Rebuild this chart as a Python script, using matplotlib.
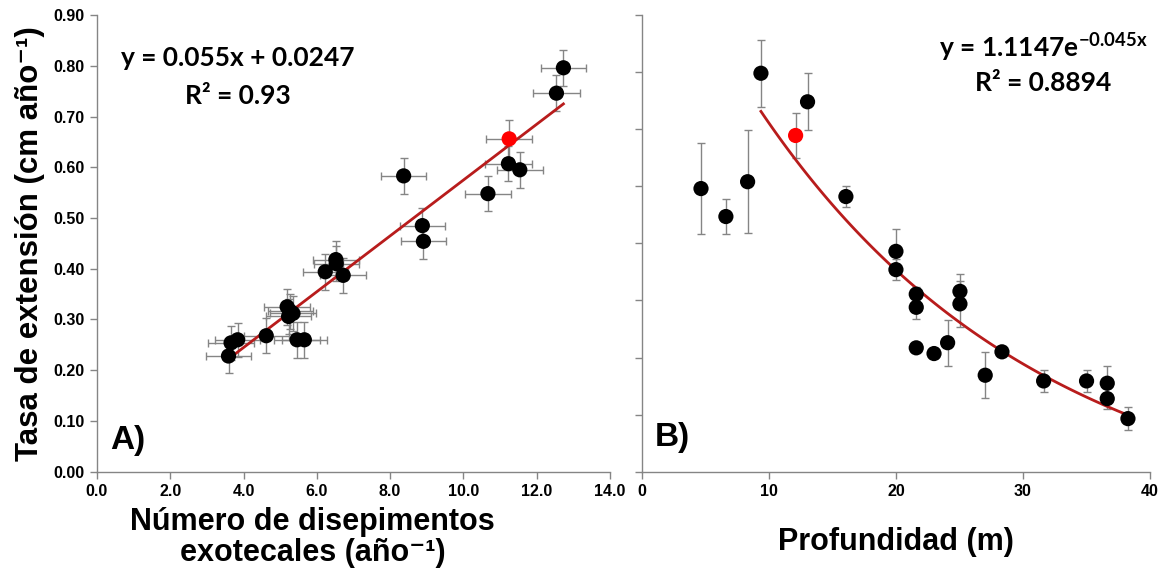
import matplotlib
matplotlib.use("Agg")
import matplotlib.pyplot as plt
import numpy as np

plt.rcParams["font.family"] = ["Liberation Sans", "DejaVu Sans"]
plt.rcParams["mathtext.fontset"] = "custom"
plt.rcParams["mathtext.rm"] = "Lato"
plt.rcParams["mathtext.bf"] = "Lato:bold"

# Panel A: tasa de extension vs numero de disepimentos
a_x = [12.73, 12.54, 11.25, 11.23, 11.54, 10.67, 8.37, 8.88, 8.91,
       6.52, 6.53, 6.23, 6.72, 5.19, 5.28, 5.35, 5.23, 4.62, 5.46,
       5.66, 3.66, 3.84, 3.59]
a_y = [0.796, 0.746, 0.656, 0.607, 0.595, 0.548, 0.583, 0.485, 0.454,
       0.418, 0.410, 0.394, 0.387, 0.325, 0.316, 0.312, 0.306, 0.268, 0.260,
       0.260, 0.254, 0.260, 0.228]
a_xerr = [0.62, 0.63, 0.63, 0.63, 0.62, 0.62, 0.62, 0.62, 0.62,
          0.62, 0.62, 0.62, 0.62, 0.62, 0.62, 0.62, 0.62, 0.62, 0.62,
          0.62, 0.62, 0.62, 0.62]
a_yerr = [0.035, 0.036, 0.037, 0.035, 0.035, 0.035, 0.035, 0.034, 0.034,
          0.036, 0.035, 0.035, 0.035, 0.035, 0.035, 0.035, 0.035, 0.034, 0.035,
          0.035, 0.034, 0.034, 0.034]
a_red = 2  # index of red point
a_slope, a_icpt = 0.055, 0.0247

# Panel B: tasa de extension vs profundidad
b_x = [4.65, 6.61, 8.32, 9.37, 12.10, 13.04, 16.06, 20.0, 20.0, 21.6,
       21.6, 21.6, 23.0, 24.07, 25.04, 25.04, 27.03, 28.35, 31.63, 35.01,
       36.64, 36.64, 38.27]
b_y = [0.596, 0.547, 0.608, 0.798, 0.689, 0.748, 0.582, 0.486, 0.454, 0.411,
       0.388, 0.317, 0.307, 0.326, 0.416, 0.394, 0.269, 0.310, 0.259, 0.259,
       0.255, 0.228, 0.193]
b_yerr = [0.080, 0.030, 0.090, 0.059, 0.039, 0.050, 0.019, 0.039, 0.019, 0.012,
          0.021, 0.0, 0.0, 0.040, 0.030, 0.040, 0.040, 0.008, 0.020, 0.020,
          0.031, 0.019, 0.020]
b_red = 4
b_a, b_b = 1.1147, -0.045
b_fit_start = 3  # fit drawn from 4th point on

fig = plt.figure(figsize=(11.64, 5.8), dpi=100)
axA = fig.add_axes([0.0833, 0.1867, 0.4407, 0.7874])
axB = fig.add_axes([0.5515, 0.1867, 0.4364, 0.7874])

gray = "#858585"
for ax in (axA, axB):
    for s in ("top", "right"):
        ax.spines[s].set_visible(False)
    for s in ("left", "bottom"):
        ax.spines[s].set_color(gray)
        ax.spines[s].set_linewidth(1.0)
    ax.tick_params(direction="out", length=5, width=1, color=gray,
                   labelsize=11.5, pad=4)

# ---- A ----
colsA = ["red" if i == a_red else "black" for i in range(len(a_x))]
axA.errorbar(a_x, a_y, xerr=a_xerr, yerr=a_yerr, fmt="none", ecolor=gray,
             elinewidth=1, capsize=3, zorder=2)
xa = np.linspace(min(a_x), max(a_x), 50)
axA.plot(xa, a_slope * xa + a_icpt, color="#b81c1c", lw=2, zorder=3)
axA.scatter(a_x, a_y, s=120, c=colsA, zorder=4, linewidths=0)
axA.set_xlim(0, 14)
axA.set_ylim(0, 0.9)
axA.set_xticks(np.arange(0, 14.1, 2))
axA.set_yticks(np.arange(0, 0.91, 0.1))
axA.set_xticklabels([f"{v:.1f}" for v in np.arange(0, 14.1, 2)], fontweight="bold")
axA.set_yticklabels([f"{v:.2f}" for v in np.arange(0, 0.91, 0.1)], fontweight="bold")
axA.set_ylabel("Tasa de extensión (cm año⁻¹)", fontsize=22.5, fontweight="bold", labelpad=6)
axA.set_xlabel("Número de disepimentos\nexotecales (año⁻¹)", fontsize=22,
               fontweight="bold", linespacing=1.05)
axA.xaxis.set_label_coords(0.42, -0.077, transform=axA.transAxes)
axA.xaxis.label.set_va("top")
axA.text(0.275, 0.905, "y = 0.055x + 0.0247", transform=axA.transAxes,
         ha="center", va="center", fontsize=19, fontweight="bold", family="Lato")
axA.text(0.275, 0.822, "R² = 0.93", transform=axA.transAxes,
         ha="center", va="center", fontsize=19, fontweight="bold", family="Lato")
axA.text(0.025, 0.068, "A)", transform=axA.transAxes, ha="left", va="center",
         fontsize=24, fontweight="bold")

# ---- B ----
colsB = ["red" if i == b_red else "black" for i in range(len(b_x))]
axB.errorbar(b_x, b_y, yerr=b_yerr, fmt="none", ecolor=gray,
             elinewidth=1, capsize=3, zorder=2)
xb = np.linspace(b_x[b_fit_start], max(b_x), 100)
axB.plot(xb, b_a * np.exp(b_b * xb), color="#b81c1c", lw=2, zorder=3)
axB.scatter(b_x, b_y, s=120, c=colsB, zorder=4, linewidths=0)
axB.set_xlim(0, 40)
axB.set_ylim(0.1, 0.9)
axB.set_xticks(np.arange(0, 41, 10))
axB.set_xticklabels([str(v) for v in range(0, 41, 10)], fontweight="bold")
axB.set_yticks(np.arange(0.1, 0.91, 0.1))
axB.set_yticklabels([])
axB.set_xlabel("Profundidad (m)", fontsize=22, fontweight="bold", labelpad=20)
axB.text(0.79, 0.93, r"y = 1.1147e$^{\mathbf{-0.045x}}$", transform=axB.transAxes,
         ha="center", va="center", fontsize=19, fontweight="bold", family="Lato")
axB.text(0.79, 0.852, "R² = 0.8894", transform=axB.transAxes,
         ha="center", va="center", fontsize=19, fontweight="bold", family="Lato")
axB.text(0.025, 0.075, "B)", transform=axB.transAxes, ha="left", va="center",
         fontsize=24, fontweight="bold")

fig.savefig("out.png", dpi=100)
